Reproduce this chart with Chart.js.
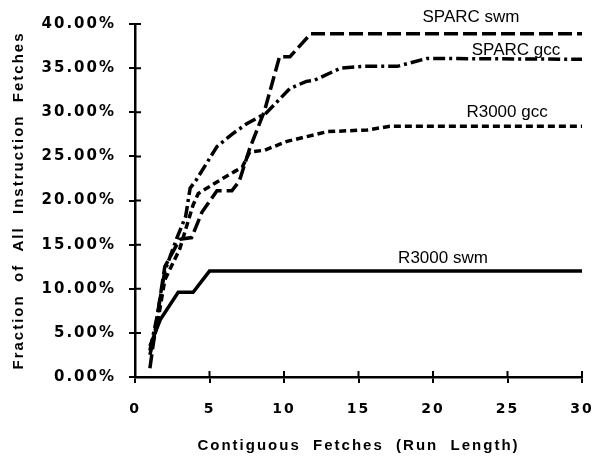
<!DOCTYPE html>
<html>
<head>
<meta charset="utf-8">
<script src="https://cdn.jsdelivr.net/npm/chart.js@4/dist/chart.umd.min.js"></script>
<style>
  html, body { margin: 0; padding: 0; background: #fff; }
  #wrap { width: 601px; height: 456px; }
</style>
</head>
<body>
<div id="wrap"><canvas id="runChart"></canvas></div>
<script>
// Run length values (x) and cumulative fraction of fetches in % (y)
const sparcSwmX = [1, 1.5, 2, 3, 3.8, 4.5, 5.5, 6.5, 7, 7.7, 8.7, 9.7, 10.4, 11.8, 30];
const sparcSwmY = [1, 7, 12.5, 15.6, 15.8, 18.7, 21.1, 21.1, 22.2, 25.9, 30.2, 36.3, 36.3, 38.9, 38.9];

const sparcGccX = [1, 1.5, 2, 2.8, 3.4, 3.7, 4.1, 5.5, 6.5, 7.5, 8.8, 10.4, 11.5, 12, 13.8, 15.3, 17.6, 19.6, 30];
const sparcGccY = [3, 7, 12, 15.7, 18.2, 21.4, 22.3, 26.1, 27.5, 28.7, 29.9, 32.7, 33.5, 33.6, 35, 35.2, 35.2, 36.1, 36];

const r3000GccX = [1, 1.5, 2, 3, 3.9, 4.25, 5.5, 6.7, 7.2, 7.7, 8.7, 10.2, 12.9, 15.6, 17.1, 30];
const r3000GccY = [2.5, 6, 11, 14.5, 19.5, 20.8, 22.1, 23.3, 23.8, 25.5, 25.7, 26.7, 27.8, 28, 28.4, 28.4];

const r3000SwmX = [1, 1.7, 2.9, 3.9, 5, 30];
const r3000SwmY = [3.5, 6.5, 9.6, 9.6, 12, 12];

const seriesNames = ['SPARC swm', 'SPARC gcc', 'R3000 gcc', 'R3000 swm'];
// where each series name sits, in data units
const labelX = [22.55, 25.57, 24.97, 20.67];
const labelY = [40.8, 37.05, 30.0, 13.5];

const xTicks = [0, 5, 10, 15, 20, 25, 30];
const yTicks = [0, 5, 10, 15, 20, 25, 30, 35, 40];

function pts(xs, ys) {
  return xs.map((x, i) => ({ x: x, y: ys[i] }));
}

// wide letter spacing like the old Mac chart
const spacing = {
  id: 'spacing',
  beforeLayout(chart) { chart.ctx.letterSpacing = '2px'; },
  beforeDraw(chart) { chart.ctx.letterSpacing = '2px'; }
};

// tick marks that cross the axis lines, and the series names
const extras = {
  id: 'extras',
  afterDraw(chart) {
    const ctx = chart.ctx;
    const xs = chart.scales.x, ys = chart.scales.y;
    const area = chart.chartArea;
    ctx.save();
    ctx.strokeStyle = '#000';
    ctx.lineWidth = 2;
    ctx.beginPath();
    yTicks.forEach(v => {
      const py = ys.getPixelForValue(v);
      ctx.moveTo(area.left, py);
      ctx.lineTo(area.left + 6, py);
    });
    xTicks.forEach(v => {
      const px = xs.getPixelForValue(v);
      ctx.moveTo(px, area.bottom);
      ctx.lineTo(px, area.bottom - 6);
    });
    ctx.stroke();

    ctx.letterSpacing = '0px';
    ctx.fillStyle = '#000';
    ctx.font = '17px "Liberation Sans", Arial, sans-serif';
    ctx.textAlign = 'center';
    ctx.textBaseline = 'middle';
    seriesNames.forEach((name, i) => {
      ctx.fillText(name, xs.getPixelForValue(labelX[i]), ys.getPixelForValue(labelY[i]));
    });
    ctx.restore();
  }
};

const lineStyle = { showLine: true, pointRadius: 0, borderColor: '#000', borderWidth: 3.5, fill: false };

new Chart(document.getElementById('runChart'), {
  type: 'scatter',
  data: {
    datasets: [
      Object.assign({ label: seriesNames[0], data: pts(sparcSwmX, sparcSwmY), borderDash: [14, 5] }, lineStyle),
      Object.assign({ label: seriesNames[1], data: pts(sparcGccX, sparcGccY), borderDash: [12, 4, 3, 4] }, lineStyle),
      Object.assign({ label: seriesNames[2], data: pts(r3000GccX, r3000GccY), borderDash: [7, 4] }, lineStyle),
      Object.assign({ label: seriesNames[3], data: pts(r3000SwmX, r3000SwmY) }, lineStyle)
    ]
  },
  options: {
    responsive: true,
    maintainAspectRatio: false,
    animation: false,
    layout: { padding: { top: 24, right: 19, left: 0, bottom: 0 } },
    plugins: { legend: { display: false }, tooltip: { enabled: false } },
    scales: {
      x: {
        type: 'linear',
        min: 0, max: 30,
        afterBuildTicks(scale) { scale.ticks = xTicks.map(v => ({ value: v })); },
        afterFit(scale) {
          scale.height = 79;
          scale.paddingLeft = 0;
          scale.paddingRight = 0;
        },
        border: { color: '#000', width: 2.5 },
        grid: { drawOnChartArea: false, drawTicks: true, tickLength: 6, color: '#000', lineWidth: 2 },
        ticks: { color: '#000', padding: 18, font: { family: '"DejaVu Sans"', size: 14, weight: 'bold' } },
        title: {
          display: true,
          text: 'Contiguous  Fetches  (Run  Length)',
          color: '#000',
          padding: { top: 0, bottom: 1 },
          font: { family: '"Liberation Sans", Arial', size: 15, weight: 'bold' }
        }
      },
      y: {
        type: 'linear',
        min: 0, max: 40,
        afterBuildTicks(scale) { scale.ticks = yTicks.map(v => ({ value: v })); },
        afterFit(scale) { scale.width = 135; },
        border: { color: '#000', width: 2.5 },
        grid: { drawOnChartArea: false, drawTicks: true, tickLength: 6, color: '#000', lineWidth: 2 },
        ticks: {
          color: '#000',
          padding: 13,
          font: { family: '"DejaVu Sans"', size: 15, weight: 'bold' },
          callback: v => v.toFixed(2) + '%'
        },
        title: {
          display: true,
          text: 'Fraction  of  All  Instruction  Fetches',
          color: '#000',
          padding: { top: 10, bottom: 0 },
          font: { family: '"Liberation Sans", Arial', size: 15, weight: 'bold' }
        }
      }
    }
  },
  plugins: [spacing, extras]
});
</script>
</body>
</html>
